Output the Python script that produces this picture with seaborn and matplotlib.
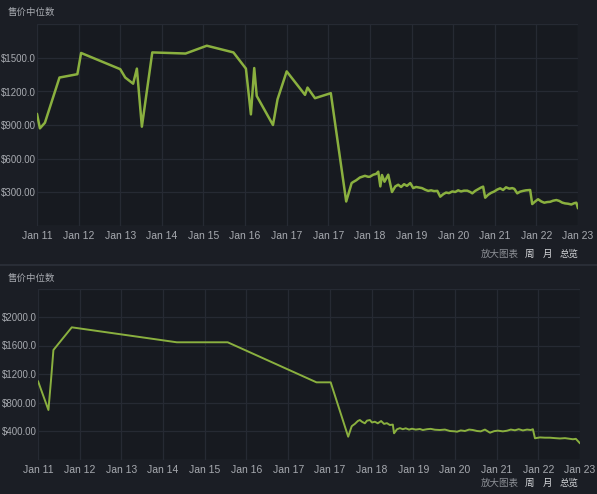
import matplotlib
matplotlib.use("Agg")
import matplotlib.pyplot as plt
import seaborn as sns
import pandas as pd

# ---- data -------------------------------------------------------------
tick_labels = ["Jan 11", "Jan 12", "Jan 13", "Jan 14", "Jan 15", "Jan 16", "Jan 17",
               "Jan 17", "Jan 18", "Jan 19", "Jan 20", "Jan 21", "Jan 22", "Jan 23"]

# upper chart: median sale price, position in tick units
top_t = [0.00, 0.07, 0.19, 0.54, 0.97, 1.06, 2.00, 2.12, 2.31, 2.40, 2.52, 2.77, 3.57,
         4.08, 4.72, 5.02, 5.14, 5.22, 5.28, 5.67, 5.78, 6.00, 6.44, 6.50, 6.68, 7.06,
         7.43, 7.56, 7.60, 7.67, 7.76, 7.84, 7.88, 7.96, 8.00, 8.08, 8.15, 8.20, 8.25,
         8.29, 8.35, 8.44, 8.53, 8.61, 8.68, 8.75, 8.82, 8.89, 8.97, 9.04, 9.11, 9.18,
         9.25, 9.33, 9.40, 9.47, 9.54, 9.62, 9.69, 9.76, 9.83, 9.90, 9.98, 10.05, 10.12,
         10.19, 10.26, 10.34, 10.41, 10.46, 10.53, 10.60, 10.67, 10.72, 10.77, 10.84,
         10.91, 10.99, 11.06, 11.13, 11.20, 11.27, 11.35, 11.42, 11.47, 11.54, 11.61,
         11.68, 11.75, 11.85, 11.90, 11.97, 12.04, 12.12, 12.19, 12.26, 12.33, 12.40,
         12.48, 12.55, 12.62, 12.69, 12.76, 12.84, 12.91, 12.96, 13.00]
top_price = [1000, 870, 920, 1325, 1355, 1545, 1400, 1325, 1270, 1405, 885, 1550, 1540,
             1610, 1550, 1405, 995, 1410, 1160, 900, 1130, 1380, 1170, 1235, 1140, 1185,
             215, 380, 390, 405, 430, 440, 445, 436, 437, 455, 462, 482, 350,
             452, 392, 455, 300, 350, 365, 345, 370, 355, 380, 335, 345, 340,
             335, 320, 310, 315, 308, 310, 258, 280, 295, 290, 305, 300, 315,
             305, 312, 312, 300, 288, 310, 325, 340, 348, 249, 275,
             292, 305, 322, 333, 318, 342, 330, 335, 328, 288, 303,
             310, 315, 318, 192, 215, 235, 215, 204, 210, 212, 222,
             228, 220, 205, 198, 195, 188, 200, 204, 154]

# lower chart
bot_t = [0.00, 0.25, 0.31, 0.37, 0.81, 3.33, 4.55, 6.68, 7.02, 7.44, 7.52, 7.53, 7.60,
         7.67, 7.72, 7.77, 7.84, 7.89, 7.96, 8.01, 8.08, 8.15, 8.23, 8.30, 8.37, 8.44,
         8.51, 8.54, 8.61, 8.68, 8.75, 8.82, 8.90, 8.97, 9.06, 9.16, 9.23, 9.33, 9.42,
         9.52, 9.64, 9.76, 9.88, 10.00, 10.05, 10.14, 10.24, 10.34, 10.43, 10.53, 10.62,
         10.72, 10.84, 10.94, 11.03, 11.15, 11.25, 11.34, 11.44, 11.53, 11.63, 11.73,
         11.82, 11.87, 11.92, 12.04, 12.16, 12.28, 12.40, 12.52, 12.64, 12.76, 12.83,
         12.90, 13.00]
bot_price = [1100, 695, 1100, 1537, 1855, 1645, 1645, 1083, 1083, 320, 460, 470, 500,
             540, 554, 530, 508, 545, 554, 520, 530, 508, 540, 500, 510, 484,
             490, 368, 424, 440, 425, 438, 420, 432, 420, 428, 414, 425, 430,
             418, 414, 420, 400, 395, 390, 408, 400, 420, 414, 400, 395,
             420, 376, 398, 405, 395, 404, 420, 410, 425, 408, 420,
             414, 425, 298, 310, 306, 306, 300, 295, 300, 290, 284,
             290, 227]

top_yticks = [300, 600, 900, 1200, 1500]
top_ylabels = ["$300.00", "$600.00", "$900.00", "$1200.0", "$1500.0"]
bot_yticks = [400, 800, 1200, 1600, 2000]
bot_ylabels = ["$400.00", "$800.00", "$1200.0", "$1600.0", "$2000.0"]

title = "售价中位数"
zoom_text = "放大图表"
range_opts = ["周", "月", "总览"]

# ---- style ------------------------------------------------------------
BG = "#1b1e25"
PLOT_BG = "#171a20"
GRID = "#262a33"
LINE = "#8ab03f"
TEXT = "#a7aab0"

sns.set_theme(style="dark")
plt.rcParams["font.family"] = ["Liberation Sans", "Noto Sans CJK SC", "DejaVu Sans"]
cjk = ["Noto Sans CJK SC", "DejaVu Sans"]

fig = plt.figure(figsize=(5.97, 4.94), dpi=100, facecolor=BG)
W, H = 597, 494


def box(l, r, t, b):
    return [l / W, 1 - b / H, (r - l) / W, (b - t) / H]


ax_top = fig.add_axes(box(37, 578, 24.5, 225.5))
ax_bot = fig.add_axes(box(38, 580, 288.5, 459.5))

panels = [
    (ax_top, top_t, top_price, 1800, 300, top_yticks, top_ylabels, 1.8),
    (ax_bot, bot_t, bot_price, 2400, 400, bot_yticks, bot_ylabels, 1.4),
]

for ax, t, price, ymax, ystep, yt, yl, lw in panels:
    df = pd.DataFrame({"t": t, "price": price})
    sns.lineplot(data=df, x="t", y="price", ax=ax, color=LINE, linewidth=lw,
                 estimator=None, sort=False)
    ax.set_facecolor(PLOT_BG)
    ax.set_xlim(0, 13)
    ax.set_ylim(0, ymax)
    ax.set_xticks(range(len(tick_labels)))
    ax.set_xticklabels(tick_labels)
    ax.set_yticks(yt)
    ax.set_yticklabels(yl)
    for y in range(ystep, ymax + 1, ystep):
        ax.axhline(y, color=GRID, lw=0.9, zorder=0)
    for x in range(len(tick_labels)):
        ax.axvline(x, color=GRID, lw=0.9, zorder=0)
    ax.axhline(0, color="#2a2f38", lw=1.0, zorder=0)
    ax.grid(False)
    ax.set_xlabel("")
    ax.set_ylabel("")
    ax.tick_params(axis="x", colors=TEXT, labelsize=7.5, length=0, pad=4)
    ax.tick_params(axis="y", colors=TEXT, labelsize=7, length=0, pad=1)
    for s in ax.spines.values():
        s.set_visible(False)

# panel titles and range selectors
for ty, oy in [(12, 254), (278, 483)]:
    fig.text(8 / W, 1 - ty / H, title, color=TEXT, fontsize=6.8, family=cjk,
             va="center", ha="left")
    fig.text(481 / W, 1 - oy / H, zoom_text, color="#8d9096", fontsize=6.8,
             family=cjk, va="center", ha="left")
    for x, s in zip([525, 543, 560], range_opts):
        fig.text(x / W, 1 - oy / H, s, color="#d6d8db", fontsize=6.8, family=cjk,
                 va="center", ha="left")

# separator between the two charts
fig.add_artist(plt.Line2D([0, 1], [1 - 265 / H, 1 - 265 / H], color="#2c313a", lw=1.2))

fig.savefig("out.png", dpi=100, facecolor=BG)
